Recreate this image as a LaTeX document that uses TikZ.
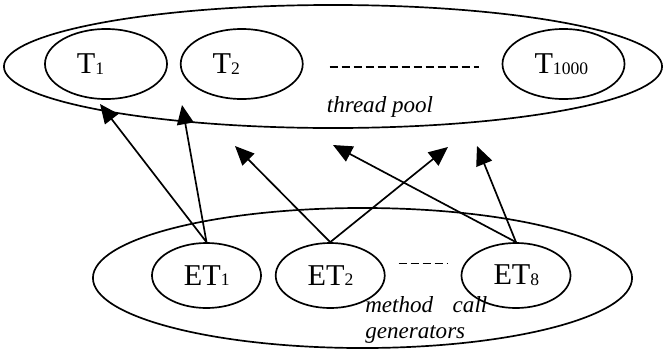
\documentclass[tikz,border=0pt]{standalone}
\usepackage{fontspec}
\setmainfont{Liberation Serif}
\usepackage{tikz}
\usetikzlibrary{arrows.meta, positioning, shapes.geometric}

% small index on the baseline of a thread name
\newcommand{\subidx}[1]{{\fontsize{12.5}{12.5}\selectfont\raisebox{-0.02cm}{#1}}}

\begin{document}
\begin{tikzpicture}[
        x=0.025cm, y=-0.025cm,
        group/.style={ellipse, draw=black, line width=1.2pt, inner sep=0pt},
        thread/.style={ellipse, draw=black, line width=1.2pt, minimum width=3.05cm, minimum height=1.75cm, text width=1.45cm, align=left, font=\fontsize{21.5}{24}\selectfont},
        caller/.style={ellipse, draw=black, line width=1.2pt, minimum width=2.725cm, minimum height=1.625cm, text width=1.125cm, align=left, font=\fontsize{21.5}{24}\selectfont},
        call/.style={-{Triangle[length=0.48cm, width=0.42cm]}, line width=1.2pt},
        dashline/.style={dash pattern=on 0.2cm off 0.1cm, line width=1.2pt},
        note/.style={font=\fontsize{16.4}{18.5}\selectfont\itshape}
        ]
        \useasboundingbox (0,0) rectangle (664,350);

        % Thread pool with its worker threads
        \node[group, minimum width=16.45cm, minimum height=3.075cm] (pool) at (333,66.5) {};
        \node[thread] (t1) at (106,64) {T\subidx{1}};
        \node[thread, right=0.3cm of t1] (t2) {T\subidx{2}};
        \node[thread] (t1000) at (563.5,64) {T\subidx{1000}};
        \node[note] (poollabel) at (380,107) {thread pool};

        % Method call generators
        \node[group, minimum width=13.475cm, minimum height=3.5cm] (gens) at (362.5,278) {};
        \node[caller] (et1) at (206.5,275.5) {ET\subidx{1}};
        \node[caller, right=0.325cm of et1] (et2) {ET\subidx{2}};
        \node[caller] (et8) at (516,275.5) {ET\subidx{8}};
        \node[note, anchor=north west, inner sep=0pt, text width=3.05cm, align=left] (genlabel) at (365,296) {method\hfill call\\generators};

        % Omitted threads and generators
        \draw[dashline] ([yshift=-0.075cm]t2.east) -- ([yshift=-0.075cm]t1000.west) [shorten <=0.65cm, shorten >=0.575cm];
        \draw[dashline] ([yshift=0.3cm]et2.east) -- ([yshift=0.3cm]et8.west) [shorten <=0.325cm, shorten >=0.325cm];

        % Calls into the pool
        \coordinate (in1) at (100,104);
        \coordinate (in2) at (182,105);
        \coordinate (in3) at (235,146);
        \coordinate (in4) at (448,147);
        \coordinate (in5) at (333,145);
        \coordinate (in6) at (477,146);
        \draw[call] (et1.north) -- (in1);
        \draw[call] (et1.north) -- (in2);
        \draw[call] (et2.north) -- (in3);
        \draw[call] (et2.north) -- (in4);
        \draw[call] (et8.north) -- (in5);
        \draw[call] (et8.north) -- (in6);
\end{tikzpicture}
\end{document}
